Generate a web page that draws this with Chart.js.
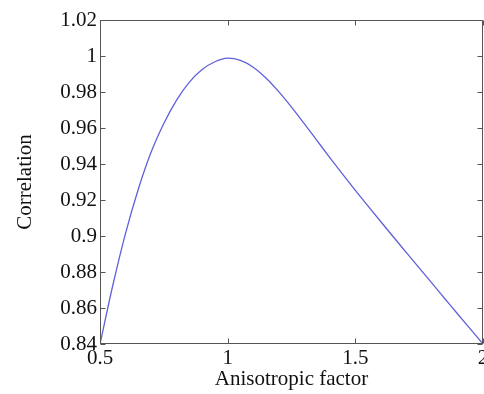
<!DOCTYPE html>
<html>
<head>
<meta charset="utf-8">
<script src="https://cdn.jsdelivr.net/npm/chart.js@4.4.1/dist/chart.umd.min.js"></script>
<style>
html,body{margin:0;padding:0;background:#fff;}
#wrap{width:484px;height:394px;position:relative;}
</style>
</head>
<body>
<div id="wrap"><canvas id="c" width="484" height="394"></canvas></div>
<script>
const factors = [0.50,0.55,0.60,0.65,0.70,0.75,0.80,0.85,0.90,0.95,1.00,1.05,1.10,1.15,1.20,1.25,1.30,1.35,1.40,1.45,1.50,1.55,1.60,1.65,1.70,1.75,1.80,1.85,1.90,1.95,2.00];
const correlation = [0.8400,0.8725,0.9015,0.9260,0.9465,0.9625,0.9755,0.9855,0.9925,0.9968,0.9988,0.9976,0.9938,0.9878,0.9802,0.9716,0.9624,0.9530,0.9436,0.9344,0.9254,0.9166,0.9079,0.8993,0.8908,0.8823,0.8738,0.8653,0.8568,0.8484,0.8400];
const xTicks = [0.5,1,1.5,2];
const xTickLabels = ['0.5','1','1.5','2'];
const yTicks = [0.84,0.86,0.88,0.90,0.92,0.94,0.96,0.98,1.00,1.02];
const yTickLabels = ['0.84','0.86','0.88','0.9','0.92','0.94','0.96','0.98','1','1.02'];

const font = {family:"'Liberation Serif','Times New Roman',serif", size:21};

const framePlugin = {
  id:'frame',
  afterDatasetsDraw(chart){
    const {ctx, chartArea:{left,right,top,bottom}, scales:{x,y}} = chart;
    ctx.save();
    ctx.strokeStyle = '#555';
    ctx.lineWidth = 1;
    const L = Math.round(left)+0.5, R = Math.round(right)-0.5, T = Math.round(top)+0.5, B = Math.round(bottom)-0.5;
    ctx.beginPath();
    ctx.moveTo(L,T); ctx.lineTo(R,T); ctx.lineTo(R,B); ctx.lineTo(L,B); ctx.closePath();
    const tl = 5;
    xTicks.forEach(v=>{
      const px = Math.round(x.getPixelForValue(v))+0.5;
      ctx.moveTo(px,B); ctx.lineTo(px,B-tl);
      ctx.moveTo(px,T); ctx.lineTo(px,T+tl);
    });
    yTicks.forEach(v=>{
      const py = Math.round(y.getPixelForValue(v))+0.5;
      ctx.moveTo(L,py); ctx.lineTo(L+tl,py);
      ctx.moveTo(R,py); ctx.lineTo(R-tl,py);
    });
    ctx.stroke();
    ctx.restore();
  }
};

new Chart(document.getElementById('c'), {
  type:'line',
  data:{
    datasets:[{
      data: factors.map((f,i)=>({x:f, y:correlation[i]})),
      borderColor:'#6060dc',
      borderWidth:1.3,
      pointRadius:0,
      cubicInterpolationMode:'monotone',
      fill:false
    }]
  },
  options:{
    responsive:false,
    animation:false,
    layout:{padding:{top:20,right:1,bottom:0,left:0}},
    plugins:{legend:{display:false},tooltip:{enabled:false}},
    scales:{
      x:{
        type:'linear', min:0.5, max:2,
        grid:{display:false, drawTicks:false},
        border:{display:false},
        afterBuildTicks(s){ s.ticks = xTicks.map(v=>({value:v})); },
        afterFit(s){ s.height = 50; s.paddingLeft = 0; s.paddingRight = 0; },
        ticks:{
          autoSkip:false, maxRotation:0, padding:2, color:'#111', font:font,
          callback:(v)=>{ const i = xTicks.indexOf(v); return i>=0 ? xTickLabels[i] : ''; }
        },
        title:{display:true, text:'Anisotropic factor', color:'#111', font:font, padding:{top:0,bottom:2}}
      },
      y:{
        type:'linear', min:0.84, max:1.02,
        grid:{display:false, drawTicks:false},
        border:{display:false},
        afterBuildTicks(s){ s.ticks = yTicks.map(v=>({value:v})); },
        afterFit(s){ s.width = 100; s.paddingTop = 0; s.paddingBottom = 0; },
        ticks:{
          autoSkip:false, padding:3, color:'#111', font:font,
          callback:(v)=>{ const i = yTicks.findIndex(t=>Math.abs(t-v)<1e-9); return i>=0 ? yTickLabels[i] : ''; }
        },
        title:{display:true, text:'Correlation', color:'#111', font:font, padding:{top:13,bottom:0}}
      }
    }
  },
  plugins:[framePlugin]
});
</script>
</body>
</html>
